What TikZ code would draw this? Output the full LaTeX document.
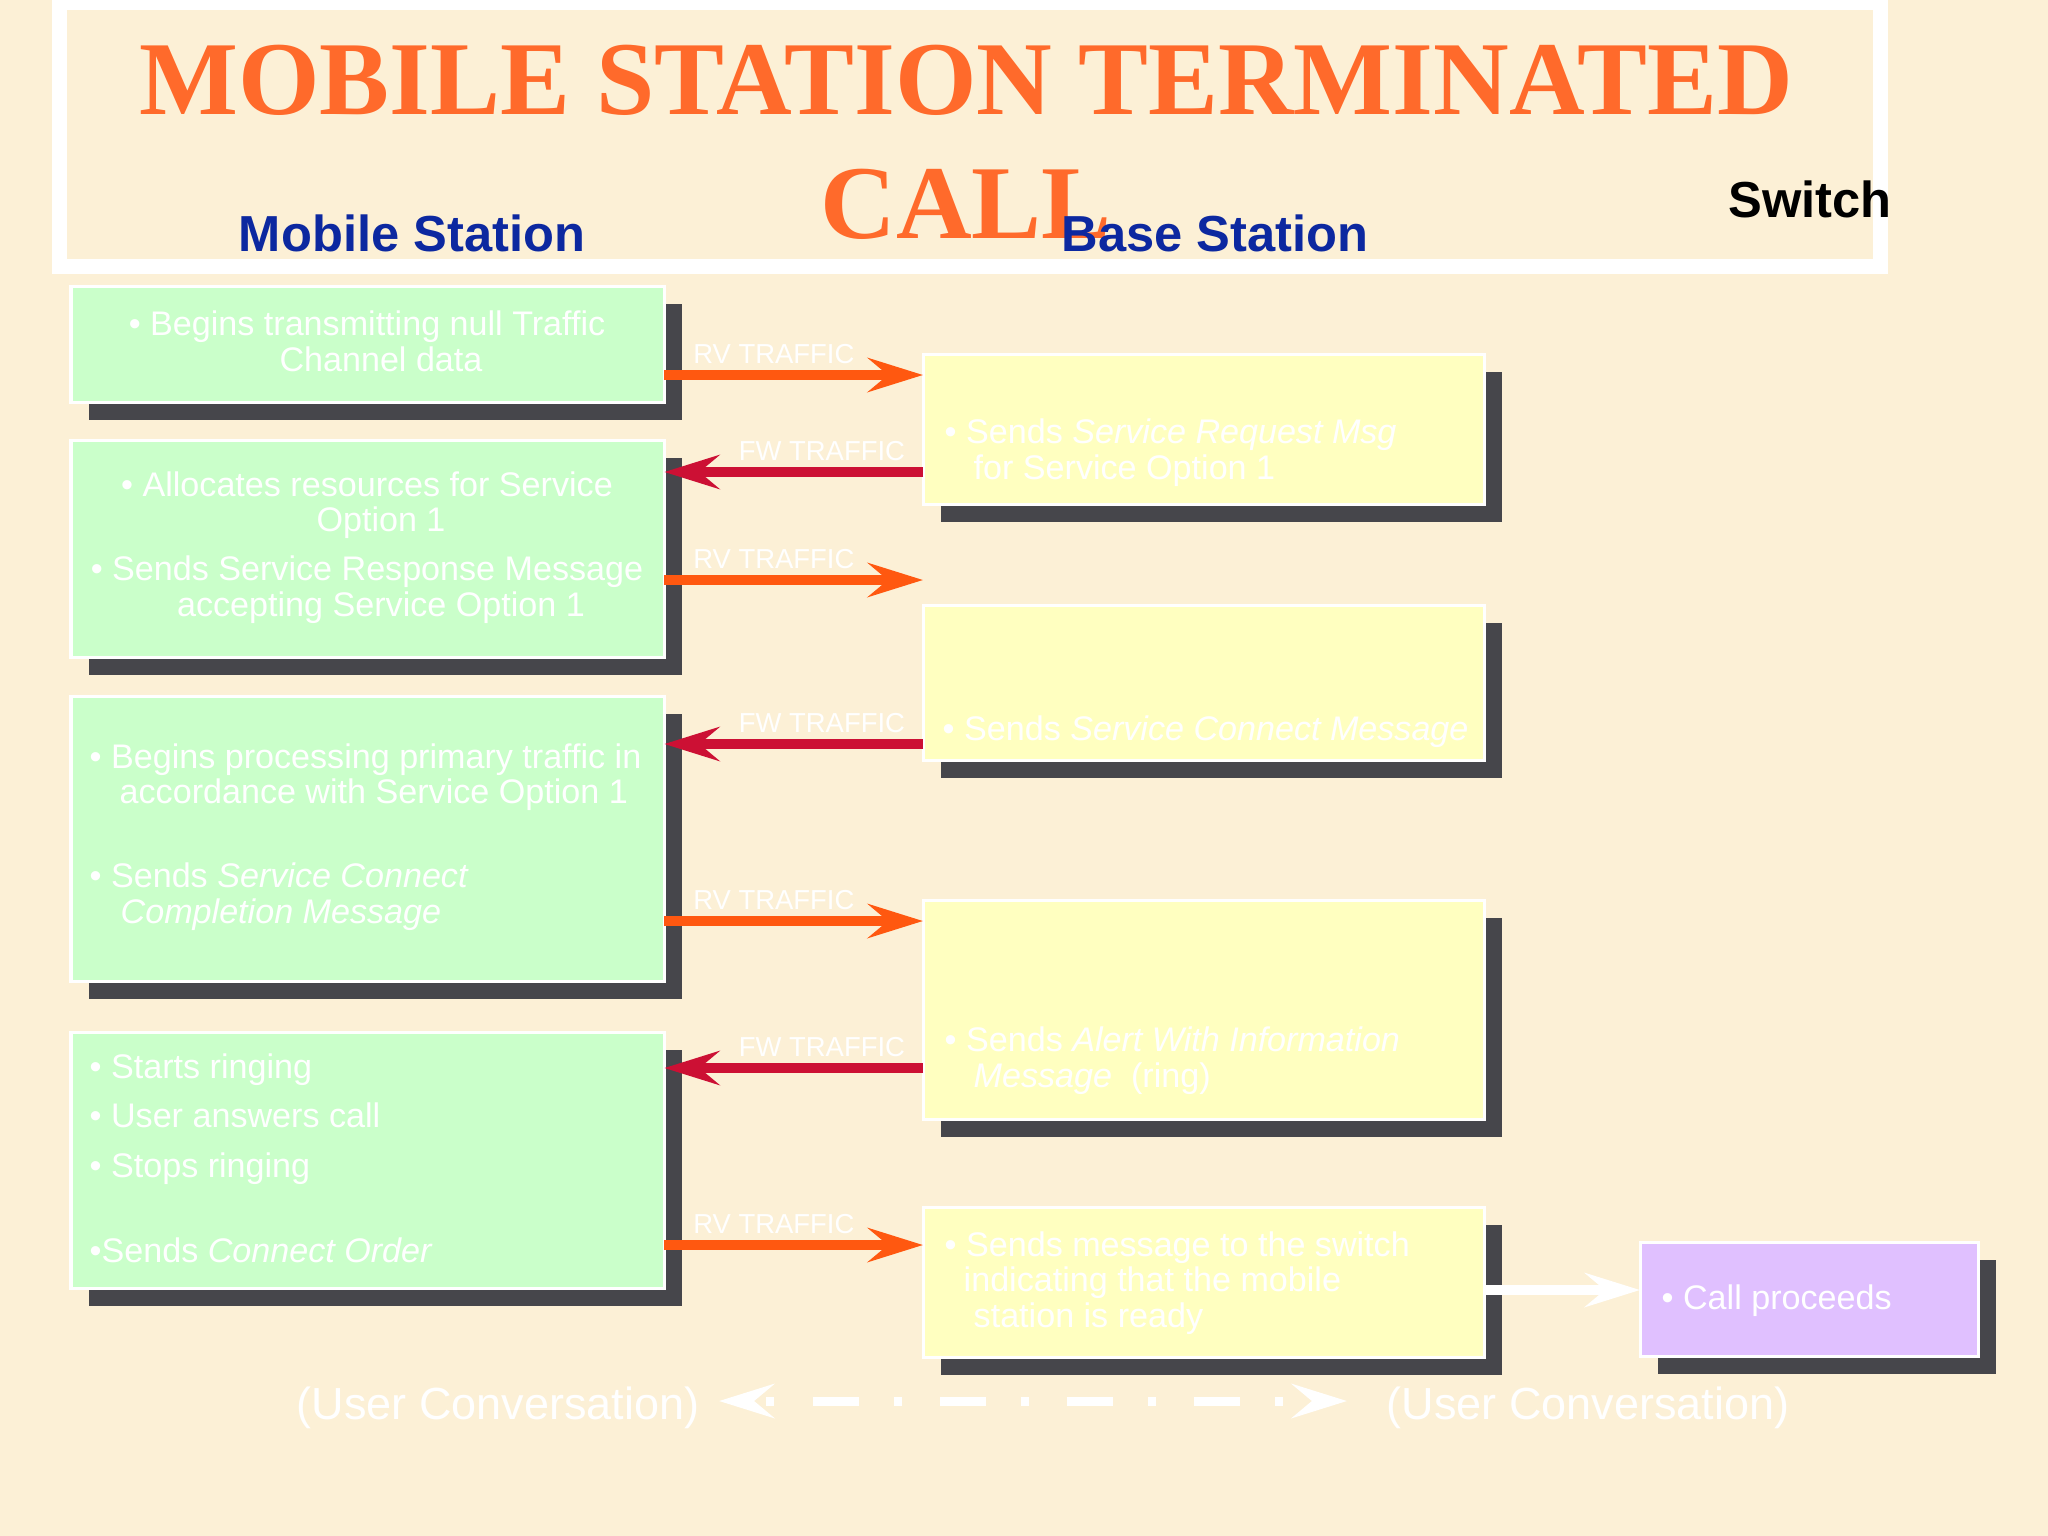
\documentclass[tikz,border=0pt]{standalone}
\usepackage{fontspec}
\setmainfont{Liberation Serif}
\setsansfont{Liberation Sans}
\usetikzlibrary{arrows.meta,shadows}

\definecolor{bgbeige}{RGB}{252,240,214}
\definecolor{titleorange}{RGB}{255,106,43}
\definecolor{headblue}{RGB}{12,40,160}
\definecolor{msgreen}{RGB}{202,255,202}
\definecolor{bsyellow}{RGB}{255,255,192}
\definecolor{swpurple}{RGB}{224,192,255}
\definecolor{shadowgray}{RGB}{70,70,75}
\definecolor{rvorange}{RGB}{255,88,16}
\definecolor{fwcrimson}{RGB}{204,16,52}

\tikzset{
  box/.style={draw=white, line width=0.03cm, anchor=north west, inner sep=0pt, outer sep=0pt,
    general shadow={fill=shadowgray, shadow xshift=0.18cm, shadow yshift=-0.18cm}},
  msbox/.style={box, fill=msgreen, minimum width=5.93cm},
  bsbox/.style={box, fill=bsyellow, minimum width=5.61cm},
  swbox/.style={box, fill=swpurple, minimum width=3.38cm},
  boxtext/.style={text=white, font=\sffamily\fontsize{9.7}{10}\selectfont, inner sep=0pt, anchor=base west, align=left},
  heading/.style={font=\sffamily\bfseries\fontsize{14.4}{16}\selectfont, anchor=base, inner sep=0pt},
  rvarrow/.style={draw=rvorange, line width=0.1cm, ->},
  fwarrow/.style={draw=fwcrimson, line width=0.1cm, ->},
  swarrow/.style={draw=white, line width=0.1cm, ->},
  trafficlabel/.style={text=white, font=\sffamily\fontsize{7.8}{9}\selectfont, inner sep=0pt, pos=0, yshift=0.12cm},
  rvlabel/.style={trafficlabel, anchor=base west, xshift=0.24cm},
  fwlabel/.style={trafficlabel, anchor=base east, xshift=-0.13cm},
  convtext/.style={text=white, font=\sffamily\fontsize{12.8}{14}\selectfont, inner sep=0pt},
  convarrow/.style={draw=white, line width=0.09cm, <->, dash pattern=on 0.46cm off 0.35cm on 0.08cm off 0.38cm, dash phase=0.64cm}
}

\begin{document}
\begin{tikzpicture}[x=0.01cm, y=-0.01cm, >={Stealth[length=0.55cm, width=0.34cm, inset=0.2cm]}]
% page and background
\useasboundingbox (0,0) rectangle (2048,1536);
\fill[bgbeige] (0,0) rectangle (2048,1536);

% title frame and title (multi-line nodes sit on their last baseline)
\draw[white, line width=0.15cm] (59.5,2.5) rectangle (1880,266);
\node (title) [anchor=base, align=center, inner sep=0pt, text=titleorange,
  font=\rmfamily\bfseries\fontsize{29.8}{35}\selectfont] at (966,238) {MOBILE STATION TERMINATED\\CALL};

% column headings
\node (msHead) [heading, text=headblue] at (412,251) {Mobile Station};
\node (bsHead) [heading, text=headblue] at (1215,251) {Base Station};
\node (swHead) [heading, text=black] at (1810,217) {Switch};

% mobile station boxes
\node (ms1) [msbox, minimum height=1.16cm] at (71,286) {};
\node (ms2) [msbox, minimum height=2.17cm] at (71,440) {};
\node (ms3) [msbox, minimum height=2.85cm] at (71,696) {};
\node (ms4) [msbox, minimum height=2.56cm] at (71,1032) {};

% base station boxes
\node (bs1) [bsbox, minimum height=1.50cm] at (923,354) {};
\node (bs2) [bsbox, minimum height=1.55cm] at (923,605) {};
\node (bs3) [bsbox, minimum height=2.19cm] at (923,900) {};
\node (bs4) [bsbox, minimum height=1.50cm] at (923,1207) {};

% switch box
\node (sw) [swbox, minimum height=1.14cm] at (1640,1242) {};

% texts in the boxes
\node (ms1txt) [boxtext, anchor=base, align=center] at (367,371)
  {• Begins transmitting null Traffic\\\hspace*{0.28cm}Channel data};
\node (ms2txt) [boxtext, anchor=base, align=center] at (367,616)
  {• Allocates resources for Service\\\hspace*{0.28cm}Option 1\\[0.14cm]• Sends Service Response Message\\\hspace*{0.28cm}accepting Service Option 1};
\node (ms3txt) [boxtext] at (89,923)
  {• Begins processing primary traffic in\\\hspace*{0.3cm}accordance with Service Option 1\\[0.49cm]• Sends \textit{Service Connect}\\\hspace*{0.31cm}\textit{Completion Message}};
\node (ms4txt) [boxtext] at (89,1262)
  {• Starts ringing\\[0.14cm]• User answers call\\[0.15cm]• Stops ringing\\[0.49cm]•Sends \textit{Connect Order}};
\node (bs1txt) [boxtext] at (944,479)
  {• Sends \textit{Service Request Msg}\\\hspace*{0.29cm}for Service Option 1};
\node (bs2txt) [boxtext] at (942,740) {• Sends \textit{Service Connect Message}};
\node (bs3txt) [boxtext] at (944,1087)
  {• Sends \textit{Alert With Information}\\\hspace*{0.29cm}\textit{Message}~~(ring)};
\node (bs4txt) [boxtext] at (944,1327)
  {• Sends message to the switch\\\hspace*{0.19cm}indicating that the mobile\\\hspace*{0.29cm}station is ready};
\node (swtxt) [boxtext] at (1661,1309) {• Call proceeds};

% traffic levels
\coordinate (rv1) at (0,375);
\coordinate (fw1) at (0,472);
\coordinate (rv2) at (0,580);
\coordinate (fw2) at (0,744);
\coordinate (rv3) at (0,921);
\coordinate (fw3) at (0,1068);
\coordinate (rv4) at (0,1245);
\coordinate (swlvl) at (0,1290);
\coordinate (convlvl) at (0,1401);

% reverse and forward traffic
\draw[rvarrow] (ms1.east |- rv1) -- (bs1.west |- rv1) node[rvlabel] {RV TRAFFIC};
\draw[fwarrow] (bs1.west |- fw1) -- (ms2.east |- fw1) node[fwlabel] {FW TRAFFIC};
\draw[rvarrow] (ms2.east |- rv2) -- (bs1.west |- rv2) node[rvlabel] {RV TRAFFIC};
\draw[fwarrow] (bs2.west |- fw2) -- (ms3.east |- fw2) node[fwlabel] {FW TRAFFIC};
\draw[rvarrow] (ms3.east |- rv3) -- (bs3.west |- rv3) node[rvlabel] {RV TRAFFIC};
\draw[fwarrow] (bs3.west |- fw3) -- (ms4.east |- fw3) node[fwlabel] {FW TRAFFIC};
\draw[rvarrow] (ms4.east |- rv4) -- (bs4.west |- rv4) node[rvlabel] {RV TRAFFIC};

% to the switch
\draw[swarrow] (bs4.east |- swlvl) -- (sw.west |- swlvl);

% user conversation
\node (convL) [convtext, anchor=base east] at (700,1419) {(User Conversation)};
\node (convR) [convtext, anchor=base west] at (1386,1419) {(User Conversation)};
\draw[convarrow, shorten <=0.19cm, shorten >=0.39cm] (convL.east |- convlvl) -- (convR.west |- convlvl);

\end{tikzpicture}
\end{document}
